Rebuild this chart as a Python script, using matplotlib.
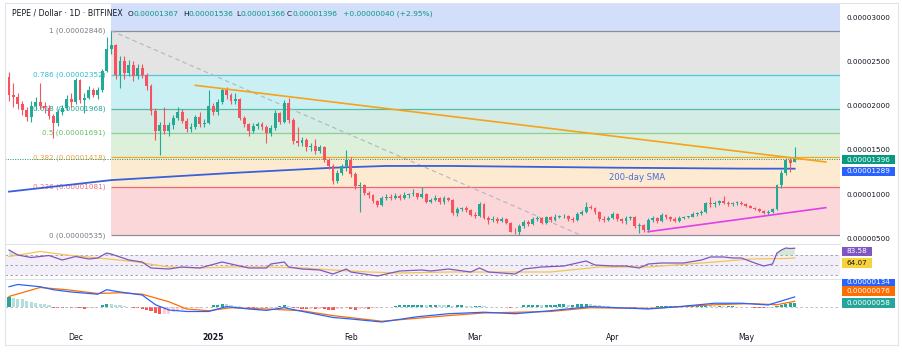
import numpy as np
import pandas as pd
import matplotlib
matplotlib.use("Agg")
import matplotlib.pyplot as plt
from matplotlib.patches import Rectangle

plt.rcParams['font.family'] = ['DejaVu Sans']

# prices below are in units of 0.00001 USD, MACD in units of 0.000001
P = 1e-5
M = 1e-6

START = "2024-11-16"
first_open = 2.32
last_open = 1.367

closes = [2.12, 2.10, 2.02, 1.95, 1.87, 2.00, 2.04, 2.00, 1.97, 1.88,
          1.80, 1.93, 1.97, 2.07, 2.04, 2.29, 2.06, 2.09, 2.18, 2.12,
          2.18, 2.39, 2.64, 2.69, 2.35, 2.50, 2.37, 2.46, 2.33, 2.43,
          2.35, 2.22, 1.94, 1.71, 1.78, 1.71, 1.78, 1.86, 1.93, 1.83,
          1.74, 1.76, 1.87, 1.79, 1.81, 2.00, 1.93, 2.04, 2.18, 2.12,
          2.05, 2.07, 1.86, 1.79, 1.71, 1.77, 1.79, 1.76, 1.69, 1.75,
          1.92, 1.82, 2.03, 1.84, 1.60, 1.58, 1.61, 1.53, 1.55, 1.49,
          1.53, 1.39, 1.32, 1.15, 1.24, 1.32, 1.39, 1.23, 1.09, 1.10,
          1.01, 0.99, 0.92, 0.88, 0.96, 0.97, 0.96, 0.98, 0.96, 0.99,
          1.00, 1.01, 0.97, 1.00, 0.91, 0.94, 0.96, 0.91, 0.96, 0.94,
          0.79, 0.83, 0.84, 0.82, 0.77, 0.75, 0.89, 0.73, 0.71, 0.72,
          0.70, 0.72, 0.68, 0.58, 0.57, 0.64, 0.69, 0.66, 0.72, 0.73,
          0.68, 0.74, 0.71, 0.74, 0.75, 0.76, 0.72, 0.71, 0.78, 0.80,
          0.86, 0.85, 0.80, 0.72, 0.71, 0.73, 0.78, 0.72, 0.70, 0.73,
          0.74, 0.64, 0.65, 0.60, 0.71, 0.73, 0.70, 0.77, 0.74, 0.72,
          0.70, 0.73, 0.74, 0.745, 0.78, 0.785, 0.80, 0.90, 0.89, 0.90,
          0.92, 0.90, 0.89, 0.90, 0.905, 0.89, 0.87, 0.85, 0.83, 0.81,
          0.79, 0.80, 0.83, 1.10, 1.24, 1.39, 1.356, 1.396]

highs = [2.38, 2.26, 2.14, 2.05, 1.98, 2.05, 2.10, 2.26, 2.04, 2.01,
         1.91, 1.96, 2.01, 2.12, 2.14, 2.31, 2.30, 2.14, 2.22, 2.20,
         2.21, 2.41, 2.77, 2.846, 2.70, 2.56, 2.56, 2.52, 2.50, 2.47,
         2.47, 2.37, 2.25, 1.97, 1.82, 1.98, 1.82, 1.90, 1.98, 1.96,
         1.86, 1.80, 1.90, 1.93, 1.85, 2.18, 2.03, 2.07, 2.20, 2.21,
         2.14, 2.14, 2.09, 1.88, 1.80, 1.80, 1.82, 1.82, 1.78, 1.78,
         1.95, 1.93, 2.06, 2.09, 1.86, 1.76, 1.65, 1.63, 1.58, 1.62,
         1.56, 1.55, 1.41, 1.34, 1.27, 1.34, 1.50, 1.42, 1.25, 1.14,
         1.12, 1.04, 1.00, 0.94, 0.98, 1.00, 1.00, 1.01, 1.00, 1.03,
         1.02, 1.06, 1.02, 1.08, 1.02, 0.96, 0.99, 0.97, 0.98, 0.97,
         0.95, 0.86, 0.86, 0.87, 0.83, 0.80, 0.91, 0.90, 0.75, 0.75,
         0.74, 0.74, 0.73, 0.69, 0.62, 0.66, 0.71, 0.71, 0.74, 0.75,
         0.74, 0.76, 0.75, 0.78, 0.77, 0.78, 0.77, 0.74, 0.80, 0.82,
         0.91, 0.88, 0.86, 0.81, 0.75, 0.75, 0.80, 0.79, 0.73, 0.75,
         0.76, 0.75, 0.68, 0.67, 0.73, 0.76, 0.74, 0.79, 0.78, 0.76,
         0.74, 0.75, 0.76, 0.76, 0.80, 0.80, 0.82, 0.91, 0.97, 0.92,
         0.94, 0.98, 0.92, 0.91, 0.92, 0.92, 0.90, 0.88, 0.86, 0.84,
         0.82, 0.82, 0.84, 1.12, 1.27, 1.41, 1.42, 1.536]

lows = [2.05, 1.98, 1.96, 1.90, 1.83, 1.82, 1.95, 1.96, 1.92, 1.85,
        1.64, 1.77, 1.89, 1.95, 1.98, 2.02, 2.03, 1.92, 2.08, 2.10,
        2.08, 2.16, 2.38, 2.58, 2.30, 2.20, 2.30, 2.33, 2.28, 2.30,
        2.31, 2.18, 1.90, 1.61, 1.44, 1.68, 1.66, 1.74, 1.84, 1.80,
        1.70, 1.70, 1.74, 1.76, 1.76, 1.79, 1.90, 1.90, 2.02, 2.08,
        2.02, 2.02, 1.84, 1.76, 1.66, 1.69, 1.74, 1.73, 1.58, 1.66,
        1.73, 1.79, 1.80, 1.81, 1.57, 1.55, 1.55, 1.49, 1.49, 1.46,
        1.47, 1.37, 1.29, 1.12, 1.13, 1.22, 1.26, 1.20, 1.06, 0.80,
        0.99, 0.96, 0.90, 0.86, 0.87, 0.94, 0.94, 0.95, 0.94, 0.95,
        0.96, 0.98, 0.95, 0.96, 0.90, 0.90, 0.92, 0.89, 0.89, 0.92,
        0.77, 0.76, 0.81, 0.80, 0.75, 0.73, 0.74, 0.72, 0.66, 0.69,
        0.68, 0.69, 0.66, 0.57, 0.555, 0.535, 0.62, 0.64, 0.65, 0.70,
        0.67, 0.67, 0.69, 0.70, 0.73, 0.73, 0.70, 0.69, 0.70, 0.77,
        0.79, 0.83, 0.78, 0.70, 0.69, 0.70, 0.72, 0.70, 0.68, 0.67,
        0.71, 0.62, 0.56, 0.58, 0.58, 0.69, 0.68, 0.69, 0.72, 0.70,
        0.69, 0.69, 0.72, 0.73, 0.74, 0.76, 0.77, 0.79, 0.86, 0.86,
        0.88, 0.89, 0.87, 0.87, 0.88, 0.88, 0.86, 0.84, 0.82, 0.80,
        0.78, 0.77, 0.79, 0.82, 1.07, 1.22, 1.25, 1.366]

# 200-day SMA (day offset from START, value)
sma_day = [0, 23, 50, 73, 85, 99, 137, 165, 177]
sma_val = [1.03, 1.16, 1.24, 1.30, 1.32, 1.32, 1.30, 1.29, 1.289]

# Fibonacci retracement
fib_ratios = ["1", "0.786", "0.618", "0.5", "0.382", "0.236", "0"]
fib_prices = [2.846, 2.352, 1.968, 1.691, 1.418, 1.081, 0.535]
fib_start = "2024-12-09"
fib_diag_end = "2025-03-25"

# trend lines
orange_dates = ["2024-12-28", "2025-05-19"]
orange_vals = [2.23, 1.365]
magenta_dates = ["2025-04-09", "2025-05-19"]
magenta_vals = [0.578, 0.849]

# RSI(14) and its MA
rsi_day = [0, 2, 5, 9, 12, 15, 18, 20, 22, 23, 27, 30, 32, 36, 39, 43, 48, 50, 54, 58,
           59, 62, 63, 66, 70, 73, 76, 77, 83, 88, 93, 95, 99, 104, 106, 108, 114, 116, 120, 125,
           128, 130, 132, 136, 139, 142, 144, 147, 152, 156, 158, 161, 163, 165, 168, 170, 172, 173, 174, 175,
           176, 177]
rsi_val = [80, 70, 65, 69, 60, 67, 62, 64, 74, 72, 60, 56, 44, 42, 46, 44, 56, 52, 44, 44,
           52, 56, 46, 42, 40, 32, 42, 36, 28, 38, 40, 38, 42, 36, 44, 36, 32, 42, 46, 48,
           54, 58, 50, 48, 48, 44, 52, 54, 54, 60, 66, 66, 64, 64, 54, 48, 52, 74, 80, 84,
           83, 83.58]
rsima_day = [0, 7, 13, 20, 28, 36, 43, 50, 58, 66, 73, 81, 88, 99, 106, 122, 133, 144, 159, 167, 175, 177]
rsima_val = [67, 77, 70, 64, 57, 46, 44, 46, 46, 44, 40, 36, 34, 36, 36, 36, 46, 46, 56, 62, 63, 64.07]

# MACD (12, 26, 9), in units of M
macd_day = [0, 2, 7, 10, 14, 20, 22, 25, 30, 33, 36, 40, 45, 49, 54, 58, 62, 67, 73, 77,
            84, 92, 99, 107, 114, 122, 131, 137, 144, 152, 159, 165, 171, 174, 177]
macd_val = [2.7, 3.0, 2.7, 2.3, 2.0, 1.7, 2.3, 2.0, 1.6, 0.3, -0.4, -0.6, -0.6, 0.05, -0.27, -0.45, -0.1, -0.7, -1.4, -1.6,
            -2.0, -1.3, -0.9, -0.7, -0.9, -0.5, 0.05, -0.1, -0.27, 0.1, 0.5, 0.5, 0.27, 0.8, 1.34]
sig_day = [0, 7, 13, 20, 25, 30, 36, 40, 45, 50, 58, 66, 73, 84, 92, 99, 107, 122, 131, 144, 159, 167, 173, 177]
sig_val = [1.4, 2.6, 2.3, 1.8, 1.9, 1.7, 0.7, -0.27, -0.5, -0.1, -0.27, -0.5, -1.15, -1.9, -1.5, -1.15, -0.8, -0.6, -0.1, -0.2,
           0.3, 0.45, 0.3, 0.76]
hist = [1.3, 1.2, 1.1, 1.0, 0.8, 0.7, 0.55, 0.45, 0.35, 0.25,
        -0.1, -0.15, -0.2, -0.15, -0.2, -0.1, -0.2, -0.25, -0.15, -0.1, -0.05,
        0.3, 0.45, 0.4, 0.3, 0.2, 0.1,
        -0.05, -0.1, -0.2,
        -0.3, -0.45, -0.6, -0.8, -1.0, -1.0,
        -0.9, -0.7, -0.5, -0.35, -0.2,
        -0.15, -0.1, -0.1, -0.05, 0.05,
        0.2, 0.3, 0.4, 0.35, 0.25,
        0.15, 0.1, 0.05,
        -0.1, -0.2, -0.2, -0.15, -0.2, -0.15, -0.1,
        0.1, 0.3,
        0.1, -0.1, -0.2, -0.25,
        -0.3, -0.25, -0.3, -0.25, -0.3, -0.35, -0.4, -0.3,
        -0.3, -0.2, -0.3, -0.35, -0.3, -0.25, -0.3, -0.2, -0.15,
        -0.1, -0.05, 0.05, 0.1,
        0.2, 0.25, 0.3, 0.3, 0.3, 0.3, 0.25, 0.25, 0.3, 0.25, 0.2, 0.2,
        0.15, 0.2, 0.2, 0.15, 0.1, 0.1, 0.15, 0.1, 0.05,
        0.0, -0.05, 0.05, 0.0, -0.1, -0.05, 0.05,
        0.2, 0.2, 0.25, 0.25, 0.2, 0.25, 0.3,
        0.3, 0.35, 0.35, 0.3, 0.3, 0.35, 0.4, 0.4, 0.35, 0.3,
        0.2, 0.15, 0.1, 0.05,
        -0.05, -0.1, -0.1, -0.15, -0.2, -0.15, -0.1, -0.05,
        0.05, 0.1, 0.15, 0.15, 0.15, 0.15, 0.15, 0.15, 0.2, 0.2, 0.2,
        0.2, 0.25, 0.2, 0.15, 0.15, 0.1, 0.1, 0.1, 0.05, 0.05, 0.05,
        -0.05, -0.1, -0.15, -0.2, -0.2, -0.15,
        0.1, 0.3, 0.4, 0.5, 0.58]

month_ticks = ["2024-12-01", "2025-01-01", "2025-02-01", "2025-03-01", "2025-04-01", "2025-05-01"]
month_labels = ["Dec", "2025", "Feb", "Mar", "Apr", "May"]

UP = "#22ab94"
DOWN = "#f7525f"
TXT = "#131722"
W, H = 903, 352

start = pd.Timestamp(START)
dates = pd.date_range(START, periods=len(closes), freq="D")
day = lambda d: start + pd.to_timedelta(np.array(d), unit="D")
x_left = start - pd.Timedelta(days=0.9)
x_right = start + pd.Timedelta(days=187.2)

o = np.array([first_open] + closes[:-1])
o[-1] = last_open
c = np.array(closes)
hi = np.array(highs)
lo = np.array(lows)


def rect(x0, y0, x1, y1):
    return [x0 / W, 1 - y1 / H, (x1 - x0) / W, (y1 - y0) / H]


fig = plt.figure(figsize=(W / 100, H / 100), dpi=100)
fig.patch.set_facecolor("white")
ax = fig.add_axes(rect(5, 3, 840, 244))
ax_rsi = fig.add_axes(rect(5, 244, 840, 279), sharex=ax)
ax_macd = fig.add_axes(rect(5, 279, 840, 327), sharex=ax)

# ---- fib bands
fs = pd.Timestamp(fib_start)
fill_cols = ["#e4e4e4", "#cbf0f3", "#d3ece5", "#dcf0dc", "#fdebd1", "#fbd7da"]
line_cols = ["#8c8f99", "#4fcadb", "#55b9a5", "#8fcf91", "#f5a623", "#ea6b73", "#8c8f99"]
label_cols = ["#787b86", "#2bbcd0", "#26a69a", "#66bb6a", "#f0a030", "#e8707a", "#787b86"]
ax.fill_between([fs, x_right], fib_prices[0] * P, 3.3 * P, color="#d3defb", lw=0, zorder=0)
for k in range(len(fib_prices) - 1):
    ax.fill_between([fs, x_right], fib_prices[k + 1] * P, fib_prices[k] * P,
                    color=fill_cols[k], lw=0, zorder=0)
for k, (r, p) in enumerate(zip(fib_ratios, fib_prices)):
    ax.hlines(p * P, fs, x_right, color=line_cols[k], lw=0.9, zorder=1)
    ax.annotate(f"{r} ({p * P:.8f})", xy=(fs, p * P), xytext=(-4, 0), textcoords="offset points",
                ha="right", va="center", fontsize=5.2, color=label_cols[k], zorder=1)
ax.plot([fs, pd.Timestamp(fib_diag_end)], [fib_prices[0] * P, fib_prices[-1] * P],
        color="#b2b5be", lw=0.8, ls=(0, (4, 3)), zorder=1)

# price line
ax.axhline(c[-1] * P, color="#089981", lw=0.7, ls=(0, (1, 1.5)), zorder=2)

# 200 SMA
ax.plot(day(sma_day), np.array(sma_val) * P, color="#3a5fd9", lw=1.3, zorder=3)
ax.text(start + pd.Timedelta(days=141.4), 1.195 * P, "200-day SMA", color="#4a6ad8",
        fontsize=6.1, ha="center", va="center", zorder=3)

# candles
cols = np.where(c >= o, UP, DOWN)
ax.vlines(dates, lo * P, hi * P, colors=cols, lw=0.8, zorder=4)
body_lo = np.minimum(o, c)
body_h = np.maximum(np.abs(c - o), 0.01)
ax.bar(dates, body_h * P, bottom=body_lo * P, width=0.65, color=cols, lw=0, zorder=4)

# trend lines
ax.plot(pd.to_datetime(orange_dates), np.array(orange_vals) * P, color="#f5a31a", lw=1.2, zorder=5)
ax.plot(pd.to_datetime(magenta_dates), np.array(magenta_vals) * P, color="#e040e8", lw=1.2, zorder=5)

ax.set_xlim(x_left, x_right)
ax.set_ylim(0.439 * P, 3.159 * P)
ax.yaxis.tick_right()
ax.set_yticks(np.arange(0.5, 3.01, 0.5) * P)
ax.yaxis.set_major_formatter(plt.FuncFormatter(lambda v, _: f"{v:.8f}"))
ax.tick_params(axis="y", length=0, pad=5, labelsize=5.2, labelcolor=TXT)
ax.tick_params(axis="x", length=0, labelbottom=False)
for s in ax.spines.values():
    s.set_visible(False)

# ---- RSI
ax_rsi.axhspan(30, 70, color="#7e57c2", alpha=0.09, lw=0)
for lvl in (70, 50, 30):
    ax_rsi.axhline(lvl, color="#9598a1", lw=0.6, ls=(0, (3, 3)))
rd = day(rsi_day)
rv = np.array(rsi_val, dtype=float)
ax_rsi.fill_between(rd, rv, 70, where=rv > 70, interpolate=True, color="#4caf50", alpha=0.25, lw=0)
ax_rsi.fill_between(rd, rv, 30, where=rv < 30, interpolate=True, color="#f23645", alpha=0.2, lw=0)
ax_rsi.plot(day(rsima_day), rsima_val, color="#f5c451", lw=0.9)
ax_rsi.plot(rd, rv, color="#7e57c2", lw=0.9)
ax_rsi.set_ylim(22, 92)
ax_rsi.set_yticks([])
ax_rsi.tick_params(axis="x", length=0, labelbottom=False)
for s in ax_rsi.spines.values():
    s.set_visible(False)
ax_rsi.spines["top"].set_visible(True)
ax_rsi.spines["top"].set_color("#e0e3eb")
ax_rsi.spines["top"].set_linewidth(0.8)

# ---- MACD
hv = np.array(hist)
prev = np.concatenate([[hv[0]], hv[:-1]])
hcols = np.where(hv >= 0, np.where(hv >= prev, "#26a69a", "#b2dfdb"),
                 np.where(hv < prev, "#ff5252", "#ffcdd2"))
ax_macd.axhline(0, color="#b2b5be", lw=0.6, ls=(0, (3, 3)))
ax_macd.bar(dates, hv, width=0.7, color=hcols, lw=0)
ax_macd.plot(day(sig_day), sig_val, color="#ff6d00", lw=0.9)
ax_macd.plot(day(macd_day), macd_val, color="#2962ff", lw=0.9)
ax_macd.set_ylim(-2.67, 3.73)
ax_macd.set_yticks([])
ax_macd.set_xticks(pd.to_datetime(month_ticks))
ax_macd.set_xticklabels(month_labels)
ax_macd.tick_params(axis="x", length=0, pad=4, labelsize=5.6, labelcolor=TXT)
ax_macd.get_xticklabels()[1].set_fontweight("bold")
for s in ax_macd.spines.values():
    s.set_visible(False)
ax_macd.spines["top"].set_visible(True)
ax_macd.spines["top"].set_color("#e0e3eb")
ax_macd.spines["top"].set_linewidth(0.8)
ax_macd.set_xlim(x_left, x_right)


# ---- right-hand value tags
def tag(y, text, fc, x1=895, tc="white", h=9.3, clip_top=None):
    top = y - h / 2 if clip_top is None else clip_top
    r = Rectangle((842 / W, 1 - (y + h / 2) / H), (x1 - 842) / W, (y + h / 2 - top) / H,
                  transform=fig.transFigure, facecolor=fc, edgecolor="none", zorder=5)
    fig.add_artist(r)
    t = fig.text(846.5 / W, 1 - y / H, text, color=tc, fontsize=5.2, ha="left", va="center", zorder=6)
    if clip_top is not None:
        t.set_clip_path(r)


tag(159.7, f"{c[-1] * P:.8f}", "#089981")
tag(171.3, f"{sma_val[-1] * P:.8f}", "#2962ff")
tag(251.3, f"{rsi_val[-1]:.2f}", "#7e57c2", x1=872)
tag(263.0, f"{rsima_val[-1]:.2f}", "#f7d23c", x1=872, tc=TXT)
tag(281.5, f"{macd_val[-1] * M:.8f}", "#2962ff", clip_top=279)
tag(291.0, f"{sig_val[-1] * M:.8f}", "#ff6d00")
tag(303.0, f"{hist[-1] * M:.8f}", "#26a69a")

# ---- header
chg = c[-1] - c[-2]
pct = chg / c[-2] * 100
hy = 1 - 13.5 / H
HF = 5.4
fig.text(12 / W, hy, "PEPE / Dollar · 1D · BITFINEX", fontsize=5.6, color=TXT, va="center")
for letter, val, xl, lw_ in (("O", o[-1], 128, 5.6), ("H", hi[-1], 183, 5.5),
                             ("L", lo[-1], 236, 4.3), ("C", c[-1], 287, 5.3)):
    fig.text(xl / W, hy, letter, fontsize=HF, color=TXT, va="center")
    fig.text((xl + lw_) / W, hy, f"{val * P:.8f}", fontsize=HF, color="#089981", va="center")
fig.text(343 / W, hy, f"+{chg * P:.8f} (+{pct:.2f}%)", fontsize=HF, color="#089981", va="center")

# outer frame
fig.add_artist(Rectangle((5 / W, 1 - 345 / H), 893 / W, 342 / H, fill=False, edgecolor="#e0e3eb",
                         lw=0.8, transform=fig.transFigure, zorder=7))

fig.savefig("out.png", dpi=100)
